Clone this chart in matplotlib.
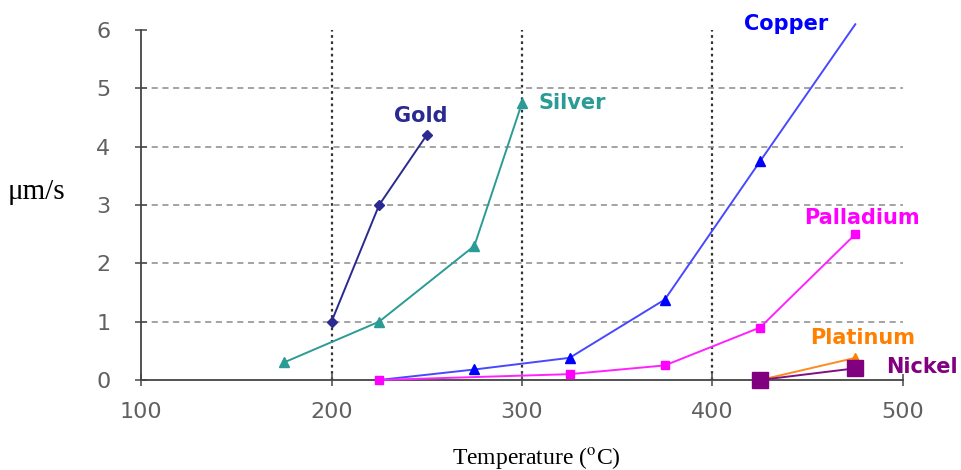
import matplotlib
matplotlib.use("Agg")
import matplotlib.pyplot as plt

# Deposition rate vs temperature, one series per metal
gold_t = [200, 225, 250]
gold_r = [1.0, 3.0, 4.2]

silver_t = [175, 225, 275, 300]
silver_r = [0.3, 1.0, 2.3, 4.75]

copper_t = [225, 275, 325, 375, 425, 475]
copper_r = [0.0, 0.18, 0.38, 1.38, 3.75, 6.1]

palladium_t = [225, 325, 375, 425, 475]
palladium_r = [0.0, 0.1, 0.25, 0.9, 2.5]

platinum_t = [425, 475]
platinum_r = [0.0, 0.38]

nickel_t = [425, 475]
nickel_r = [0.0, 0.2]

x_ticks = [100, 200, 300, 400, 500]
y_ticks = [0, 1, 2, 3, 4, 5, 6]

plt.rcParams["mathtext.fontset"] = "stix"

fig = plt.figure(figsize=(9.62, 4.70), dpi=100, facecolor="white")
ax = fig.add_axes([0.1466, 0.1915, 0.792, 0.7445])

ax.set_xlim(100, 500)
ax.set_ylim(0, 6)
ax.set_xticks(x_ticks)
ax.set_yticks(y_ticks)

# Excel-like grid: dashed horizontal, dotted vertical
ax.grid(axis="y", linestyle=(0, (4, 3)), color="#8a8a8a", lw=1.1)
ax.grid(axis="x", linestyle=(0, (1.2, 1.6)), color="#333333", lw=1.6)
for gl in (ax.yaxis.get_gridlines()[0], ax.yaxis.get_gridlines()[-1],
           ax.xaxis.get_gridlines()[0], ax.xaxis.get_gridlines()[-1]):
    gl.set_visible(False)
ax.set_axisbelow(True)

for side in ("top", "right"):
    ax.spines[side].set_visible(False)
for side in ("left", "bottom"):
    ax.spines[side].set_color("#444444")
    ax.spines[side].set_linewidth(1.3)

ax.tick_params(axis="both", direction="inout", length=8, width=1.2,
               color="#555555", labelcolor="#606060", labelsize=16)
ax.tick_params(axis="x", pad=12)
ax.tick_params(axis="y", pad=18)
for lab in ax.get_xticklabels() + ax.get_yticklabels():
    lab.set_family("DejaVu Sans")

series = [
    # t, r, line colour, marker, marker size, label, offset (pt), ha
    (gold_t, gold_r, "#2a2a90", "D", 5, "Gold", (-4, 14), "center"),
    (silver_t, silver_r, "#2b9b96", "^", 7, "Silver", (12, 0), "left"),
    (copper_t, copper_r, "#4848ff", "^", 7, "Copper", (-50, 0), "center"),
    (palladium_t, palladium_r, "#ff22ff", "s", 6, "Palladium", (5, 12), "center"),
    (platinum_t, platinum_r, "#ff8a20", "^", 7, "Platinum", (5, 14), "center"),
    (nickel_t, nickel_r, "#80107f", "s", 11, "Nickel", (22, 1), "left"),
]

for t, r, col, mk, ms, name, off, ha in series:
    mark_idx = list(range(len(t)))
    if name == "Copper":
        mark_idx = mark_idx[1:-1]
    if name == "Gold" or name == "Silver":
        mk_col = col
    else:
        mk_col = {"Copper": "#0000ff", "Palladium": "#ff00ff",
                  "Platinum": "#ff7f00", "Nickel": "#800080"}[name]
    ax.plot(t, r, color=col, lw=1.4, marker=mk, markersize=ms,
            markerfacecolor=mk_col, markeredgecolor=mk_col,
            markevery=mark_idx, clip_on=False, zorder=3)
    ax.annotate(name, xy=(t[-1], r[-1]), xytext=off, textcoords="offset points",
                ha=ha, va="center", fontsize=15, fontweight="bold",
                color=mk_col, family="DejaVu Sans", annotation_clip=False,
                zorder=4)

fig.text(0.008, 0.592, "\u03bcm/s", fontsize=21, family="Liberation Serif",
         ha="left", va="center")
fig.text(0.558, 0.025, r"Temperature ($^{\rm o}$C)", fontsize=17,
         family="Liberation Serif", ha="center", va="center")

fig.savefig("out.png", dpi=100, facecolor="white")
